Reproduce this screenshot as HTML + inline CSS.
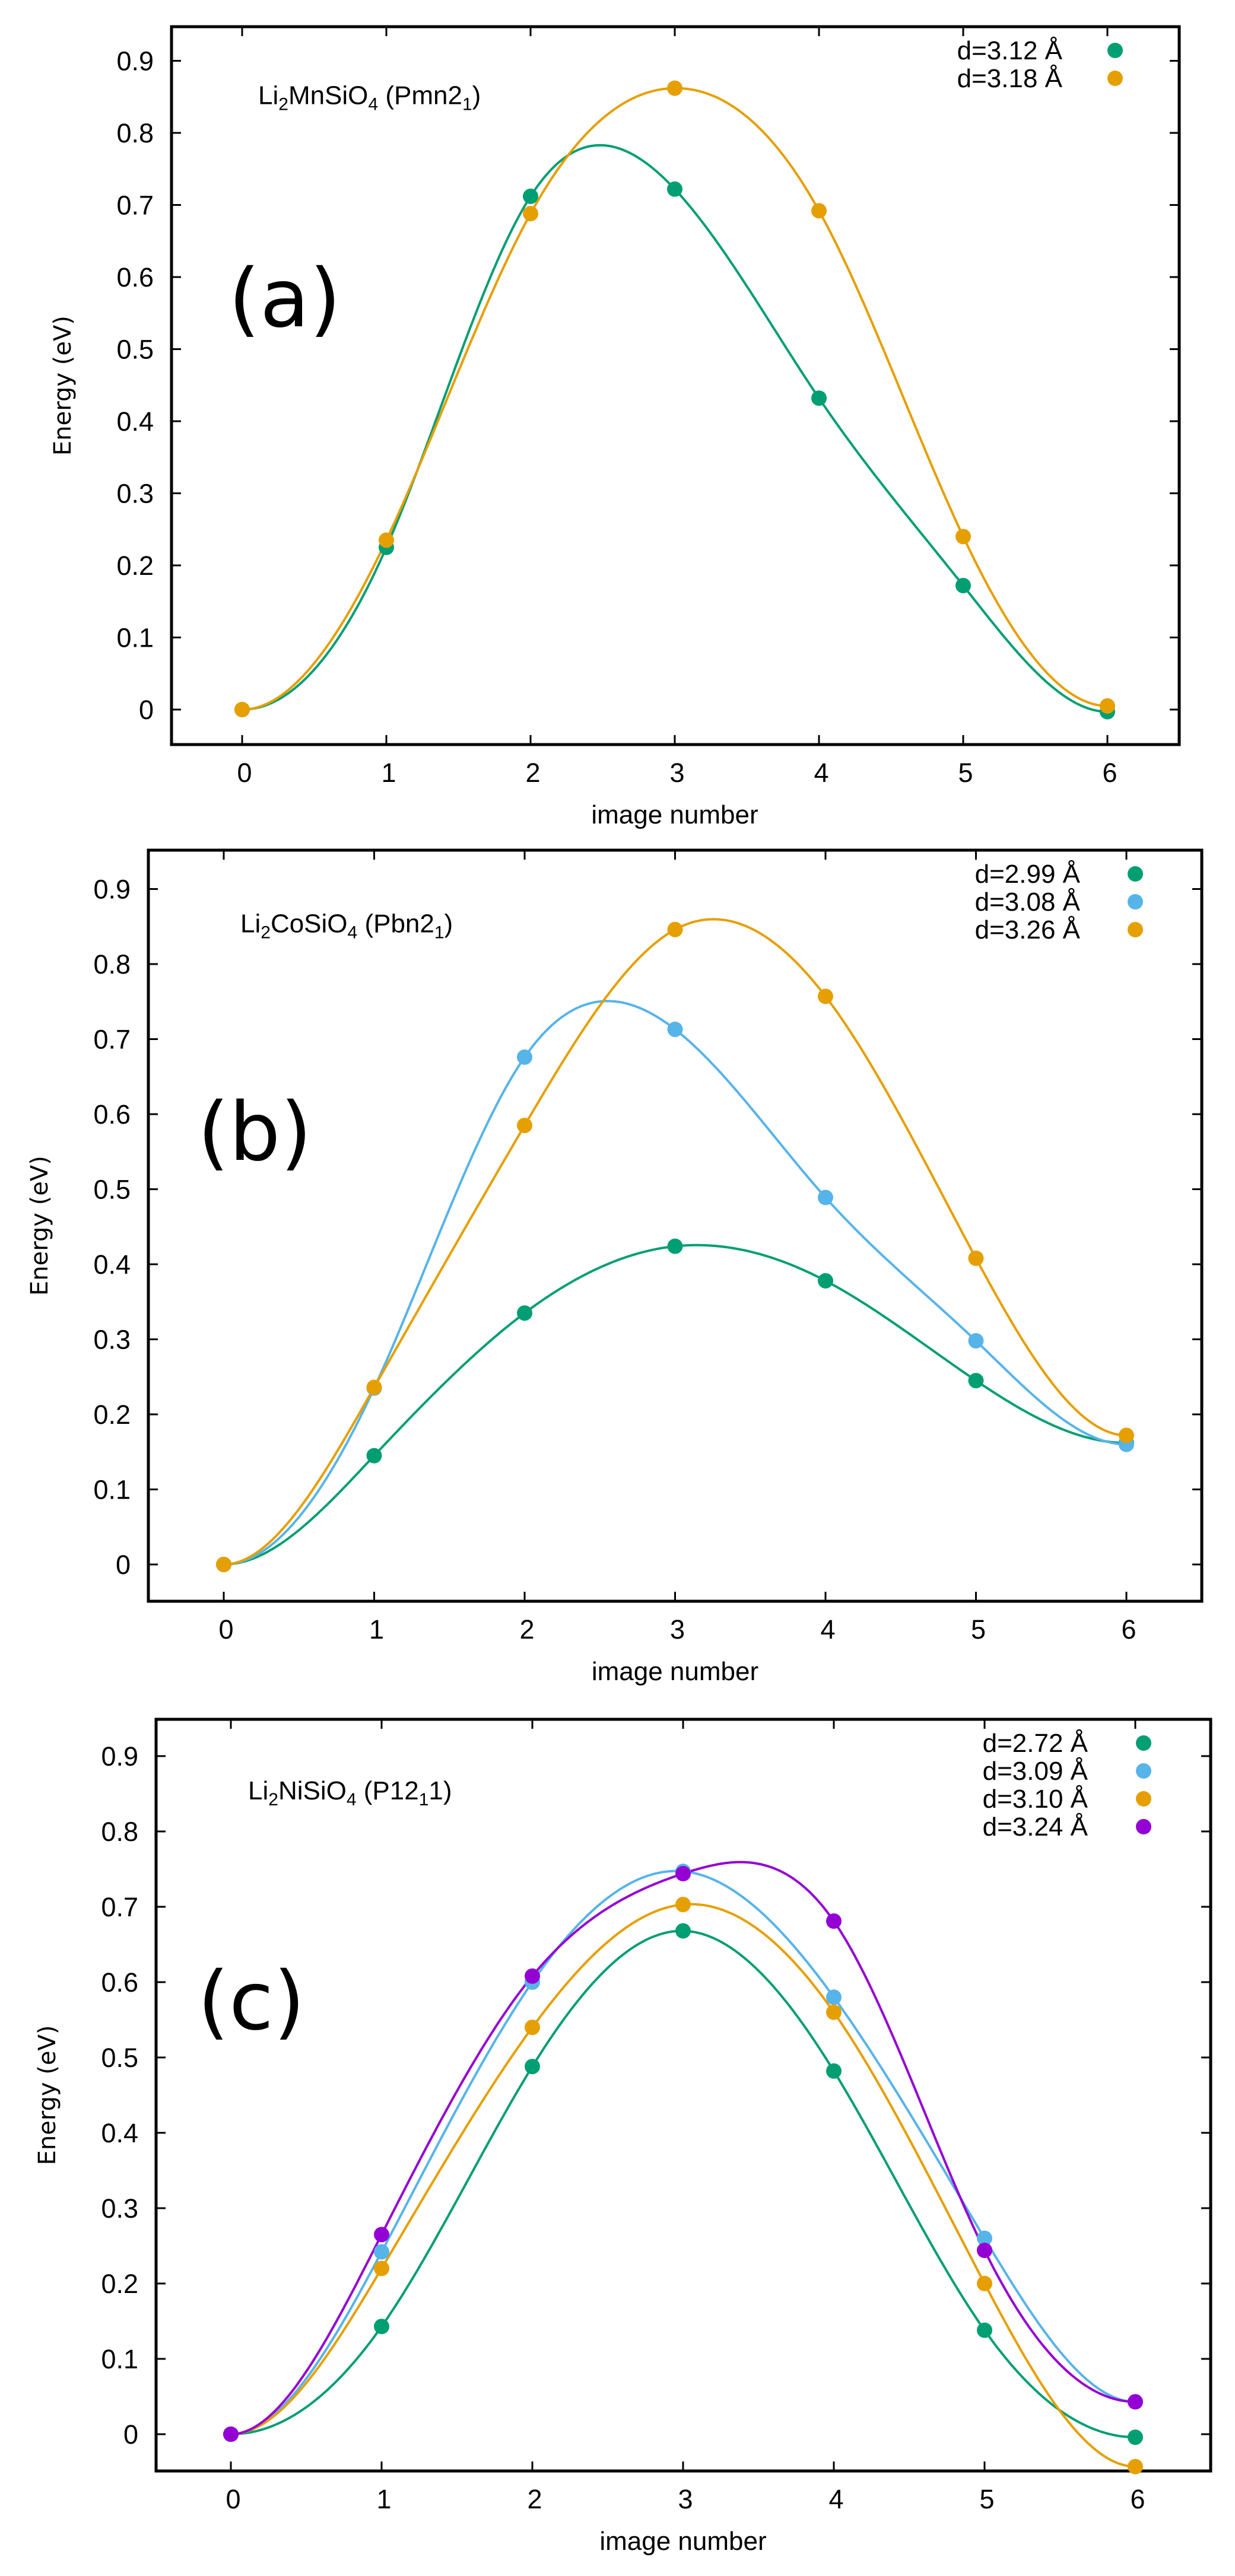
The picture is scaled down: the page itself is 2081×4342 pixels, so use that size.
<!DOCTYPE html>
<html><head><meta charset="utf-8"><style>
html,body{margin:0;padding:0;background:#fff;}
svg{display:block;}
text{font-family:"Liberation Sans",sans-serif;fill:#000;}
</style></head><body>
<svg id="fig" width="2081" height="4342" viewBox="0 0 2081 4342" xmlns="http://www.w3.org/2000/svg"></svg>
<script>
// ---- data ----
const images = [0,1,2,3,4,5,6];
const yTicks = [0,0.1,0.2,0.3,0.4,0.5,0.6,0.7,0.8,0.9];
const yTickLabels = ["0","0.1","0.2","0.3","0.4","0.5","0.6","0.7","0.8","0.9"];
const xTickLabels = ["0","1","2","3","4","5","6"];

const aLabels = ["d=3.12 Å","d=3.18 Å"];
const aGreen = [0,0.225,0.712,0.722,0.432,0.172,-0.003];
const aOrange = [0,0.235,0.688,0.862,0.692,0.240,0.005];

const bLabels = ["d=2.99 Å","d=3.08 Å","d=3.26 Å"];
const bGreen = [0,0.145,0.335,0.424,0.378,0.245,0.162];
const bBlue = [0,0.235,0.676,0.713,0.489,0.298,0.160];
const bOrange = [0,0.236,0.585,0.846,0.757,0.408,0.172];

const cLabels = ["d=2.72 Å","d=3.09 Å","d=3.10 Å","d=3.24 Å"];
const cGreen = [0,0.143,0.488,0.668,0.482,0.138,-0.004];
const cBlue = [0,0.242,0.600,0.747,0.580,0.260,0.043];
const cOrange = [0,0.220,0.540,0.703,0.560,0.200,-0.043];
const cPurple = [0,0.265,0.608,0.744,0.681,0.244,0.043];

const GREEN="#009e73", ORANGE="#e69f00", BLUE="#56b4e9", PURPLE="#9400d3";
const NS="http://www.w3.org/2000/svg";
const svg=document.getElementById('fig');
function el(tag,attrs,parent){const e=document.createElementNS(NS,tag);for(const k in attrs)e.setAttribute(k,attrs[k]);(parent||svg).appendChild(e);return e;}

// clamped cubic spline, zero slope at both ends
function spline(xs,ys){
  const n=xs.length, fp0=0, fpn=0;
  const h=[],al=[],l=[],mu=[],z=[],c=new Array(n).fill(0),b=[],d=[];
  for(let i=0;i<n-1;i++)h.push(xs[i+1]-xs[i]);
  al[0]=3*(ys[1]-ys[0])/h[0]-3*fp0;
  al[n-1]=3*fpn-3*(ys[n-1]-ys[n-2])/h[n-2];
  for(let i=1;i<n-1;i++)al[i]=3/h[i]*(ys[i+1]-ys[i])-3/h[i-1]*(ys[i]-ys[i-1]);
  l[0]=2*h[0];mu[0]=0.5;z[0]=al[0]/l[0];
  for(let i=1;i<n-1;i++){l[i]=2*(xs[i+1]-xs[i-1])-h[i-1]*mu[i-1];mu[i]=h[i]/l[i];z[i]=(al[i]-h[i-1]*z[i-1])/l[i];}
  l[n-1]=h[n-2]*(2-mu[n-2]);z[n-1]=(al[n-1]-h[n-2]*z[n-2])/l[n-1];c[n-1]=z[n-1];
  for(let j=n-2;j>=0;j--){c[j]=z[j]-mu[j]*c[j+1];b[j]=(ys[j+1]-ys[j])/h[j]-h[j]*(c[j+1]+2*c[j])/3;d[j]=(c[j+1]-c[j])/(3*h[j]);}
  return function(x){let i=Math.min(Math.floor(x-xs[0]),n-2);if(i<0)i=0;const t=x-xs[i];return ys[i]+b[i]*t+c[i]*t*t+d[i]*t*t*t;};
}

function panel(cfg){
  const g=el('g',{});
  
  
  const L=cfg.left,R=cfg.right,T=cfg.top,B=cfg.bottom;
  const sx=v=>cfg.x0+(cfg.x6-cfg.x0)*v/6;
  const sy=v=>cfg.y0-v*cfg.dy*10;   // dy = pixels per 0.1 eV
  yTicks.forEach((v,i)=>{
    const y=sy(v);
    const t1=el('line',{x1:L,y1:y,x2:L+16,y2:y,stroke:'#000','stroke-width':3},g);
    
    
    el('line',{x1:R-16,y1:y,x2:R,y2:y,stroke:'#000','stroke-width':3},g);
    const tx=el('text',{x:L-30,y:y+16,'font-size':45,'text-anchor':'end'},g);
    tx.textContent=yTickLabels[i];
    
    
  });
  images.forEach((v,i)=>{
    const x=sx(v);
    el('line',{x1:x,y1:B,x2:x,y2:B-16,stroke:'#000','stroke-width':3},g);
    el('line',{x1:x,y1:T,x2:x,y2:T+16,stroke:'#000','stroke-width':3},g);
    const tx=el('text',{x:x+4,y:B+63,'font-size':45,'text-anchor':'middle'},g);
    tx.textContent=xTickLabels[i];
    
    
  });
  const fr=el('rect',{x:L,y:T,width:R-L,height:B-T,fill:'none',stroke:'#000','stroke-width':5},g);
  
  
  const xt=el('text',{x:(cfg.x0+cfg.x6)/2,y:B+133,'font-size':44,'text-anchor':'middle'},g);
  xt.textContent='image number';
  
  
  const yc=(T+B)/2;
  const yt=el('text',{x:0,y:0,'font-size':40,'text-anchor':'middle',transform:`translate(${L-170},${yc}) rotate(-90)`,style:'font-family:"DejaVu Sans",sans-serif'},g);
  yt.textContent='Energy (eV)';
  
  
  const ti=el('text',{x:cfg.titleX,y:sy(0.9)+73,'font-size':44},g);
  ti.innerHTML=cfg.title;
  
  
  const pl=el('text',{x:cfg.labelX,y:cfg.labelY,'font-size':136,style:'font-family:"DejaVu Sans",sans-serif'},g);
  pl.textContent=cfg.label;
  
  
  cfg.series.forEach((s,k)=>{
    const f=spline(images,s.data);
    let d='';
    for(let x=0;x<=6.0001;x+=0.02){d+=(x===0?'M':'L')+sx(x).toFixed(1)+','+sy(f(x)).toFixed(1);}
    const p=el('path',{d:d,fill:'none',stroke:s.color,'stroke-width':4},g);
    
    
  });
  cfg.series.forEach((s,k)=>{
    s.data.forEach((v,i)=>{
      const c=el('circle',{cx:sx(images[i]),cy:sy(v),r:13,fill:s.color},g);
      
      
    });
  });
  cfg.series.forEach((s,k)=>{
    const y=T+40+k*47;
    const lt=el('text',{x:R-197-(cfg.legOff||0),y:y+15,'font-size':44,'text-anchor':'end'},g);
    lt.textContent=cfg.labels[k];
    
    
    const lc=el('circle',{cx:R-108-(cfg.legOff||0)/2,cy:y,r:13,fill:s.color},g);
    
    
  });
}

panel({name:'panel-a',left:289,right:1987,top:45,bottom:1255,x0:408,x6:1866,y0:1196,dy:121.5,
  title:'Li<tspan font-size="30" dy="10">2</tspan><tspan dy="-10">MnSiO</tspan><tspan font-size="30" dy="10">4</tspan><tspan dy="-10"> (Pmn2</tspan><tspan font-size="30" dy="10">1</tspan><tspan dy="-10">)</tspan>',
  titleX:435,label:'(a)',labelX:385,labelY:550,labels:aLabels,
  series:[{key:'green',color:GREEN,data:aGreen},{key:'orange',color:ORANGE,data:aOrange}]});
panel({name:'panel-b',left:250,right:2025,top:1433,bottom:2699,x0:377,x6:1898,y0:2637,dy:126.5,
  title:'Li<tspan font-size="30" dy="10">2</tspan><tspan dy="-10">CoSiO</tspan><tspan font-size="30" dy="10">4</tspan><tspan dy="-10"> (Pbn2</tspan><tspan font-size="30" dy="10">1</tspan><tspan dy="-10">)</tspan>',
  titleX:405,label:'(b)',labelX:333,labelY:1955,labels:bLabels,legOff:8,
  series:[{key:'green',color:GREEN,data:bGreen},{key:'blue',color:BLUE,data:bBlue},{key:'orange',color:ORANGE,data:bOrange}]});
panel({name:'panel-c',left:263,right:2040,top:2898,bottom:4165,x0:389,x6:1913,y0:4103,dy:127,
  title:'Li<tspan font-size="30" dy="10">2</tspan><tspan dy="-10">NiSiO</tspan><tspan font-size="30" dy="10">4</tspan><tspan dy="-10"> (P12</tspan><tspan font-size="30" dy="10">1</tspan><tspan dy="-10">1)</tspan>',
  titleX:418,label:'(c)',labelX:333,labelY:3420,labels:cLabels,legOff:10,
  series:[{key:'green',color:GREEN,data:cGreen},{key:'blue',color:BLUE,data:cBlue},{key:'orange',color:ORANGE,data:cOrange},{key:'purple',color:PURPLE,data:cPurple}]});
</script>
</body></html>
